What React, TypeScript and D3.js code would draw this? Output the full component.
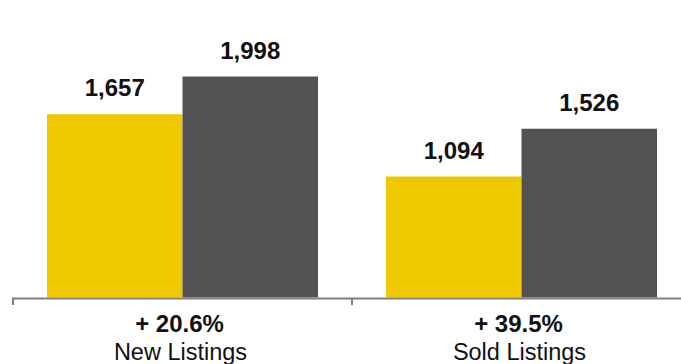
import React from "react";
import * as d3 from "d3";

const categories = ["New Listings", "Sold Listings"];
const changeLabels = ["+ 20.6%", "+ 39.5%"];
const seriesNames = ["Previous", "Current"];
const previousValues = [1657, 1094];
const currentValues = [1998, 1526];
const colors = ["#EFC900", "#545154"];

const W = 681;
const H = 364;

export default function App() {
  const x0 = d3.scaleBand<string>().domain(categories).range([13, 691]).paddingInner(0).paddingOuter(0);
  const x1 = d3.scaleBand<string>().domain(seriesNames).range([0, x0.bandwidth()]).paddingInner(0).paddingOuter(0.251);
  const y = d3.scaleLinear().domain([0, 2000]).range([297.5, 76.3]);
  const fmt = d3.format(",");
  const seriesValues = [previousValues, currentValues];
  const font = "'Liberation Sans', Arial, Helvetica, sans-serif";
  const tickXs = [...categories.map((c) => x0(c)!), x0.range()[1]];

  return (
    <svg width={W} height={H} style={{ position: "absolute", left: 0, top: 0 }} fontFamily={font}>
      <rect x={0} y={0} width={W} height={H} fill="#fff" />
      {categories.map((c, ci) => (
        <g key={c} transform={`translate(${x0(c)},0)`}>
          {seriesNames.map((s, si) => {
            const v = seriesValues[si][ci];
            const bx = x1(s)!;
            const bw = x1.bandwidth();
            return (
              <g key={s}>
                <rect x={bx} y={y(v)} width={bw} height={y(0) - y(v)} fill={colors[si]} />
                <text x={bx + bw / 2} y={y(v) - 18} textAnchor="middle" fontSize={24} fontWeight="bold" fill="#111">
                  {fmt(v)}
                </text>
              </g>
            );
          })}
          <text x={x0.bandwidth() / 2 - 3} y={332} textAnchor="middle" fontSize={24} fontWeight="bold" fill="#111">
            {changeLabels[ci]}
          </text>
          <text x={x0.bandwidth() / 2 - 2} y={360} textAnchor="middle" fontSize={23.5} fill="#111">
            {c}
          </text>
        </g>
      ))}
      <line x1={12} x2={W} y1={298.5} y2={298.5} stroke="#808080" strokeWidth={2} />
      {tickXs.map((t, i) => (
        <line key={i} x1={t} x2={t} y1={298} y2={305} stroke="#808080" strokeWidth={2} />
      ))}
    </svg>
  );
}
